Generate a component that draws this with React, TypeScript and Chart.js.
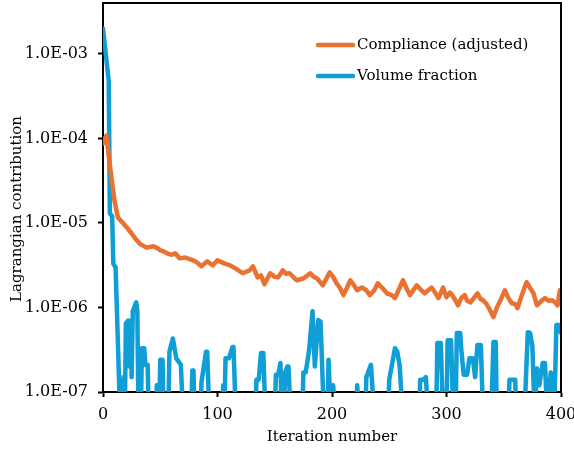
import React, { useEffect, useRef } from "react";
import { Chart, registerables } from "chart.js";

Chart.register(...registerables);

// Compliance (adjusted) — iteration / value pairs
const complianceIter = [
  0, 1, 3, 6, 10, 13, 17, 21, 25, 28, 32, 38, 44, 48, 50, 53, 56, 60, 63, 67, 72, 76, 79, 82, 86, 91, 96, 100,
  106, 111, 117, 122, 128, 131, 135, 138, 141, 146, 150, 153, 157, 160, 163, 169, 175, 181, 184, 187, 192, 198,
  201, 204, 207, 210, 213, 216, 219, 222, 226, 230, 233, 237, 240, 244, 248, 252, 255, 259, 262, 265, 268, 271,
  274, 278, 281, 284, 287, 290, 293, 297, 300, 303, 305, 308, 310, 313, 316, 318, 321, 324, 327, 330, 332, 335,
  338, 341, 344, 347, 351, 354, 357, 360, 362, 365, 368, 370, 373, 376, 379, 383, 386, 389, 392, 395, 397, 399, 400,
];
const complianceVal = [
  8.7e-5, 9.5e-5, 1.08e-4, 4.8e-5, 1.84e-5, 1.16e-5, 1.01e-5, 8.8e-6, 7.5e-6, 6.6e-6, 5.7e-6, 5.1e-6, 5.3e-6,
  5.0e-6, 4.75e-6, 4.6e-6, 4.37e-6, 4.2e-6, 4.37e-6, 3.81e-6, 3.9e-6, 3.71e-6, 3.6e-6, 3.42e-6, 3.07e-6, 3.51e-6,
  3.15e-6, 3.61e-6, 3.33e-6, 3.15e-6, 2.83e-6, 2.54e-6, 2.75e-6, 3.07e-6, 2.27e-6, 2.4e-6, 1.88e-6, 2.54e-6,
  2.3e-6, 2.27e-6, 2.75e-6, 2.5e-6, 2.54e-6, 2.1e-6, 2.2e-6, 2.54e-6, 2.3e-6, 2.2e-6, 1.83e-6, 2.6e-6, 2.3e-6,
  1.93e-6, 1.7e-6, 1.4e-6, 1.7e-6, 2.1e-6, 1.85e-6, 1.6e-6, 1.72e-6, 1.6e-6, 1.4e-6, 1.6e-6, 1.93e-6, 1.7e-6,
  1.47e-6, 1.4e-6, 1.29e-6, 1.7e-6, 2.1e-6, 1.7e-6, 1.4e-6, 1.6e-6, 1.83e-6, 1.6e-6, 1.47e-6, 1.6e-6, 1.72e-6,
  1.5e-6, 1.29e-6, 1.72e-6, 1.32e-6, 1.5e-6, 1.4e-6, 1.2e-6, 1.06e-6, 1.3e-6, 1.4e-6, 1.2e-6, 1.15e-6, 1.3e-6,
  1.47e-6, 1.25e-6, 1.22e-6, 1.1e-6, 9.3e-7, 7.7e-7, 1.0e-6, 1.2e-6, 1.6e-6, 1.3e-6, 1.12e-6, 1.1e-6, 9.8e-7,
  1.3e-6, 1.7e-6, 2.0e-6, 1.7e-6, 1.47e-6, 1.06e-6, 1.2e-6, 1.29e-6, 1.2e-6, 1.22e-6, 1.15e-6, 1.06e-6, 1.6e-6,
  1.45e-6,
];

// Volume fraction — iteration / value pairs (5e-8 = below the axis floor)
const volumeIter = [
  0, 5, 6, 8, 9, 11, 15, 17, 18, 19, 20, 22, 23, 24, 25, 26, 29, 30, 31, 33, 34, 36, 37, 39, 40, 46, 47, 48, 49,
  50, 52, 53, 57, 58, 61, 64, 68, 70, 77, 78, 79, 80, 85, 86, 90, 91, 93, 104, 105, 106, 107, 110, 113, 114, 116,
  133, 134, 136, 138, 140, 142, 150, 151, 153, 155, 156, 158, 159, 161, 162, 164, 174, 175, 177, 180, 183, 185,
  188, 190, 193, 196, 197, 199, 201, 203, 221, 222, 224, 229, 230, 234, 237, 249, 250, 255, 257, 259, 262, 276,
  277, 280, 282, 284, 291, 292, 295, 297, 300, 301, 304, 306, 308, 309, 312, 313, 315, 318, 320, 323, 325, 327,
  330, 332, 339, 341, 343, 344, 354, 355, 360, 361, 368, 371, 373, 375, 377, 379, 381, 384, 386, 388, 391, 394,
  396, 399, 400,
];
const volumeVal = [
  2.0e-3, 4.8e-4, 1.3e-5, 1.2e-5, 3.3e-6, 3.0e-6, 5e-8, 5e-8, 1.5e-7, 5e-8, 6.5e-7, 7e-7, 2e-7, 7e-7, 1.5e-7,
  9e-7, 1.15e-6, 9e-7, 5e-8, 5e-8, 3.3e-7, 3.3e-7, 2.1e-7, 2.1e-7, 5e-8, 5e-8, 1.2e-7, 5e-8, 5e-8, 2.4e-7,
  2.4e-7, 5e-8, 5e-8, 3e-7, 4.3e-7, 2.5e-7, 2.1e-7, 5e-8, 5e-8, 1.8e-7, 1.8e-7, 5e-8, 5e-8, 1.3e-7, 3e-7, 3e-7,
  5e-8, 5e-8, 1.2e-7, 5e-8, 2.5e-7, 2.5e-7, 3.4e-7, 3.4e-7, 5e-8, 5e-8, 1.4e-7, 1.4e-7, 2.9e-7, 2.9e-7, 5e-8,
  5e-8, 1.6e-7, 1.6e-7, 2.2e-7, 5e-8, 5e-8, 1.7e-7, 2.0e-7, 2.0e-7, 5e-8, 5e-8, 1.7e-7, 1.7e-7, 3.1e-7, 9e-7,
  2e-7, 7.1e-7, 6.8e-7, 5e-8, 5e-8, 2.4e-7, 5e-8, 1.2e-7, 5e-8, 5e-8, 1.2e-7, 5e-8, 5e-8, 1.5e-7, 2.1e-7, 5e-8,
  5e-8, 1.4e-7, 3.3e-7, 3.0e-7, 2.1e-7, 5e-8, 5e-8, 1.4e-7, 1.4e-7, 1.5e-7, 5e-8, 5e-8, 3.8e-7, 3.8e-7, 5e-8,
  5e-8, 4.1e-7, 4.1e-7, 5e-8, 5e-8, 5.0e-7, 5.0e-7, 3.1e-7, 1.6e-7, 1.6e-7, 2.5e-7, 2.5e-7, 1.5e-7, 3.6e-7,
  3.6e-7, 5e-8, 5e-8, 3.9e-7, 3.9e-7, 5e-8, 5e-8, 1.4e-7, 1.4e-7, 5e-8, 5e-8, 5.1e-7, 5.0e-7, 3.5e-7, 5e-8,
  1.9e-7, 1.2e-7, 2.2e-7, 2.2e-7, 5e-8, 1.7e-7, 5e-8, 6.2e-7, 6.2e-7, 5e-7,
];

const seriesLabels = ["Compliance (adjusted)", "Volume fraction"];
const seriesColors = ["#E97132", "#0F9ED5"];
const yTickValues = [1e-7, 1e-6, 1e-5, 1e-4, 1e-3];
const xTitle = "Iteration number";
const yTitle = "Lagrangian contribution";

const FONT = "'DejaVu Serif'";

function fmtExp(v: number): string {
  const e = Math.round(Math.log10(v));
  const m = v / Math.pow(10, e);
  const abs = String(Math.abs(e)).padStart(2, "0");
  return m.toFixed(1) + "E" + (e < 0 ? "-" : "+") + abs;
}

const framePlugin = {
  id: "frameAndLegend",
  afterDraw(chart: any) {
    const { ctx, chartArea } = chart;
    ctx.save();
    ctx.strokeStyle = "#000";
    ctx.lineWidth = 2;
    ctx.beginPath();
    ctx.moveTo(chartArea.left, chartArea.top);
    ctx.lineTo(chartArea.right, chartArea.top);
    ctx.lineTo(chartArea.right, chartArea.bottom);
    ctx.stroke();
    ctx.font = `15px ${FONT}`;
    ctx.textBaseline = "middle";
    ctx.textAlign = "left";
    chart.data.datasets.forEach((ds: any, i: number) => {
      const y = 45 + i * 31;
      ctx.strokeStyle = ds.borderColor;
      ctx.lineWidth = 4.5;
      ctx.lineCap = "round";
      ctx.beginPath();
      ctx.moveTo(318, y);
      ctx.lineTo(353, y);
      ctx.stroke();
      ctx.fillStyle = "#000";
      ctx.fillText(ds.label, 357, y);
    });
    ctx.translate(17, 209);
    ctx.rotate(-Math.PI / 2);
    ctx.textAlign = "center";
    ctx.fillText(yTitle, 0, 0);
    ctx.restore();
  },
};

const zeroPad = (s: any) => {
  s.paddingTop = 0;
  s.paddingBottom = 0;
  s.paddingLeft = 0;
  s.paddingRight = 0;
};

export default function App() {
  const ref = useRef<HTMLCanvasElement>(null);
  useEffect(() => {
    if (!ref.current) return;
    Chart.defaults.font.family = FONT;
    Chart.defaults.font.size = 15;
    Chart.defaults.color = "#000";
    const common = {
      borderWidth: 4.5,
      pointRadius: 0,
      borderJoinStyle: "round",
      borderCapStyle: "round",
      tension: 0,
    };
    const chart = new Chart(ref.current, {
      type: "line",
      data: {
        datasets: [
          {
            label: seriesLabels[0],
            data: complianceIter.map((x, i) => ({ x, y: complianceVal[i] })),
            borderColor: seriesColors[0],
            backgroundColor: seriesColors[0],
            ...common,
          },
          {
            label: seriesLabels[1],
            data: volumeIter.map((x, i) => ({ x, y: volumeVal[i] })),
            borderColor: seriesColors[1],
            backgroundColor: seriesColors[1],
            ...common,
          },
        ] as any,
      },
      options: {
        responsive: false,
        animation: false,
        layout: { padding: { top: 3, right: 13, left: 0, bottom: 0 } },
        plugins: { legend: { display: false }, tooltip: { enabled: false } },
        scales: {
          x: {
            type: "linear",
            min: 0,
            max: 400,
            ticks: { stepSize: 100, padding: 8, color: "#000", font: { size: 16 } },
            grid: { drawOnChartArea: false, drawTicks: true, tickLength: 5, tickColor: "#000", tickWidth: 2 },
            border: { display: true, color: "#000", width: 2 },
            title: { display: true, text: xTitle, color: "#000", font: { size: 15 }, padding: { top: 0, bottom: 7 } },
            afterFit: (s: any) => {
              s.height = 61;
              zeroPad(s);
            },
          },
          y: {
            type: "logarithmic",
            min: 1e-7,
            max: 4e-3,
            afterBuildTicks: (s: any) => {
              s.ticks = yTickValues.map((v) => ({ value: v }));
            },
            ticks: {
              padding: 10,
              color: "#000",
              font: { size: 16 },
              callback: (v: any) => fmtExp(Number(v)),
            },
            grid: { drawOnChartArea: false, drawTicks: true, tickLength: 5, tickColor: "#000", tickWidth: 2 },
            border: { display: true, color: "#000", width: 2 },
            afterFit: (s: any) => {
              s.width = 103;
              zeroPad(s);
            },
          },
        },
      },
      plugins: [framePlugin],
    });
    return () => chart.destroy();
  }, []);
  return (
    <div style={{ position: "absolute", left: 0, top: 0, width: 574, height: 453, background: "#fff" }}>
      <canvas ref={ref} width={574} height={453} />
    </div>
  );
}
